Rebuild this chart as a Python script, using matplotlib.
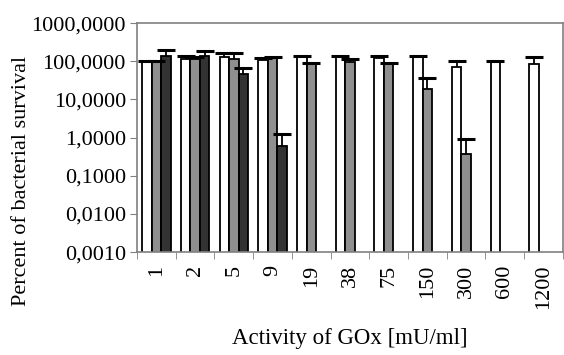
import numpy as np
import matplotlib.pyplot as plt
from matplotlib.ticker import FixedLocator, FuncFormatter

plt.rcParams['font.family'] = ['Liberation Serif', 'DejaVu Serif']

activity = ['1', '2', '5', '9', '19', '38', '75', '150', '300', '600', '1200']

nan = np.nan
# bar heights (percent survival) for the three series
white = [100, 115, 127, 111, 127, 135, 120, 135, 69, 104, 85]
gray = [100, 115, 115, 122, 85, 94, 85, 18.6, 0.36, nan, nan]
dark = [141, 141, 46, 0.6, nan, nan, nan, nan, nan, nan, nan]

# top of the (upper only) error bars
white_up = [100, 141, 162, 118, 141, 141, 141, 141, 104, 104, 127]
gray_up = [100, 127, 162, 127, 89, 115, 89, 36, 0.89, nan, nan]
dark_up = [199, 180, 65, 1.21, nan, nan, nan, nan, nan, nan, nan]

fig = plt.figure(figsize=(5.64, 3.55), dpi=100)
ax = fig.add_axes([0.243, 0.29, 0.755, 0.645])

x = np.arange(len(activity))
w = 0.245
series = [(white, white_up, 'white', -w),
          (gray, gray_up, '#8f8f8f', 0.0),
          (dark, dark_up, '#333333', w)]

for vals, ups, col, off in series:
    vals = np.array(vals, dtype=float)
    ups = np.array(ups, dtype=float)
    ax.bar(x + off, vals, width=w, color=col, edgecolor='black', linewidth=1.3, zorder=2)
    ax.vlines(x + off, vals, ups, color='black', linewidth=1.3, zorder=3)
    ax.plot(x + off, ups, linestyle='none', marker='_', markersize=13,
            markeredgewidth=2.2, color='black', zorder=3)

ax.set_yscale('log')
ax.set_ylim(0.001, 1000)
ax.yaxis.set_major_locator(FixedLocator([10.0 ** k for k in range(-3, 4)]))
ax.yaxis.set_minor_locator(FixedLocator([]))
ax.yaxis.set_major_formatter(FuncFormatter(lambda v, p: f'{v:.4f}'.replace('.', ',')))

ax.set_xlim(-0.5, len(activity) - 0.5)
ax.set_xticks(x)
ax.set_xticklabels(activity, rotation=90)
ax.set_xticks(np.arange(len(activity) + 1) - 0.5, minor=True)
ax.tick_params(axis='x', which='major', length=0, pad=9, labelsize=16)
ax.tick_params(axis='x', which='minor', length=5, color='#808080')
ax.tick_params(axis='y', length=5, color='#808080', labelsize=16, pad=3)

for s in ax.spines.values():
    s.set_color('#808080')
    s.set_linewidth(1.2)

ax.set_ylabel('Percent of bacterial survival', fontsize=16)
ax.yaxis.set_label_coords(-0.25, 0.31)
ax.set_xlabel('Activity of GOx [mU/ml]', fontsize=16.5, labelpad=14)

fig.savefig('out.png', dpi=100)
